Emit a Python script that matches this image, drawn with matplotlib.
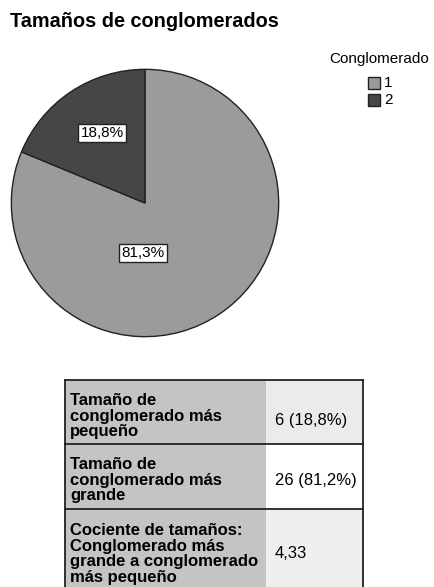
import matplotlib
matplotlib.use("Agg")
import matplotlib.pyplot as plt
from matplotlib.patches import Rectangle

plt.rcParams['font.family'] = ['Liberation Sans', 'DejaVu Sans']

title = "Tamaños de conglomerados"
clusters = ["1", "2"]
shares = [81.25, 18.75]
share_labels = ["81,3%", "18,8%"]
colors = ["#9b9b9b", "#464646"]
legend_title = "Conglomerado"

row_labels = ["Tamaño de\nconglomerado más\npequeño",
              "Tamaño de\nconglomerado más\ngrande",
              "Cociente de tamaños:\nConglomerado más\ngrande a conglomerado\nmás pequeño"]
row_values = ["6 (18,8%)", "26 (81,2%)", "4,33"]
value_colors = ["#ebebeb", "#ffffff", "#efefef"]

W, H = 435, 587
fig = plt.figure(figsize=(W/100, H/100), dpi=100)
fig.patch.set_facecolor("white")

# Pie axes: center (145,203), radius 135 px
cx, cy, r = 145, 203, 135
ax = fig.add_axes([(cx - r)/W, (H - cy - r)/H, 2*r/W, 2*r/H])
wedges, _ = ax.pie(shares, colors=colors, startangle=90, counterclock=False,
                   wedgeprops=dict(edgecolor="#222222", linewidth=1.0), radius=1.0)
ax.set_xlim(-1.01, 1.01); ax.set_ylim(-1.01, 1.01)
ax.set_aspect("equal")
ax.axis("off")

# overlay axes in pixel coords
ov = fig.add_axes([0, 0, 1, 1])
ov.set_xlim(0, W); ov.set_ylim(H, 0); ov.axis("off")

label_pos = [(143, 253), (102, 133)]
for lab, (x, y) in zip(share_labels, label_pos):
    ov.text(x, y, lab, ha="center", va="center", fontsize=11,
            bbox=dict(boxstyle="square,pad=0.15", facecolor="white", edgecolor="#222222", linewidth=1.0))

ov.text(10, 27, title, ha="left", va="baseline", fontsize=14.3, fontweight="bold")

# legend
ov.text(379, 59, legend_title, ha="center", va="center", fontsize=11)
for i, (c, lab) in enumerate(zip(colors, clusters)):
    yc = 83 + i * 17
    ov.add_patch(Rectangle((368, yc - 6), 12, 12, facecolor=c, edgecolor="#222222", linewidth=1.0))
    ov.text(384, yc, lab, ha="left", va="center", fontsize=11)

# table
x0, x1, x2 = 65, 266, 363
row_y = [380, 444, 509, 600]
text_y = [416, 480, 554]
for i in range(3):
    ya, yb = row_y[i], row_y[i + 1]
    ov.add_patch(Rectangle((x0, ya), x1 - x0, yb - ya, facecolor="#c4c4c4", edgecolor="none"))
    ov.add_patch(Rectangle((x1, ya), x2 - x1, yb - ya, facecolor=value_colors[i], edgecolor="none"))
    ov.text(x0 + 5, text_y[i], row_labels[i], ha="left", va="center",
            fontsize=12, fontweight="bold", linespacing=1.05)
    ov.text(x1 + 9, text_y[i] + (4 if i == 0 else 0), row_values[i], ha="left", va="center", fontsize=12)
# lines
for y in row_y[:3]:
    ov.plot([x0, x2], [y, y], color="#222222", lw=1.3)
ov.plot([x0, x0], [row_y[0], 600], color="#222222", lw=1.3)
ov.plot([x2, x2], [row_y[0], 600], color="#222222", lw=1.3)

fig.savefig("out.png", dpi=100, facecolor="white")
